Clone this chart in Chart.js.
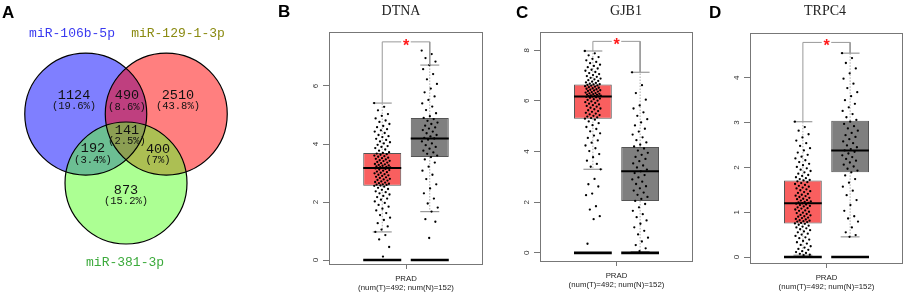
<!DOCTYPE html>
<html>
<head>
<meta charset="utf-8">
<script src="https://cdn.jsdelivr.net/npm/chart.js@4.4.1/dist/chart.umd.min.js"></script>
<style>
  body { margin: 0; background: #fff; }
  #wrap { position: relative; width: 906px; height: 295px; overflow: hidden; }
  canvas { position: absolute; top: 0; }
  .lab { position: absolute; font: bold 17px "Liberation Sans", Arial, sans-serif; line-height: 17px; }
  .ttl { position: absolute; font: 14px "Liberation Serif", serif; line-height: 14px; transform: translateX(-50%); white-space: nowrap; color: #222; }
</style>
</head>
<body>
<div id="wrap">
  <canvas id="venn" width="230" height="295" style="left:0px"></canvas>
  <canvas id="dtna" width="200" height="295" style="left:290px"></canvas>
  <canvas id="gjb1" width="200" height="295" style="left:501px"></canvas>
  <canvas id="trpc4" width="195" height="295" style="left:711px"></canvas>
  <div class="lab" style="left:2px;top:4px">A</div>
  <div class="lab" style="left:278px;top:3px">B</div>
  <div class="lab" style="left:516px;top:4px">C</div>
  <div class="lab" style="left:709px;top:4px">D</div>
  <div class="ttl" style="left:401px;top:4px">DTNA</div>
  <div class="ttl" style="left:626px;top:4px">GJB1</div>
  <div class="ttl" style="left:825px;top:4px">TRPC4</div>
</div>
<script>
// ---- Venn (panel A) ----
const vennSets = ['miR-106b-5p', 'miR-129-1-3p', 'miR-381-3p'];
const vennSetColors = ['#3a3af0', '#8a8a10', '#3caa3c'];
const vennFill = ['rgba(0,0,255,0.5)', 'rgba(255,0,0,0.5)', 'rgba(90,255,40,0.5)'];
const vennX = [-0.66, 0.66, 0];   // circle centres, radius = 1
const vennY = [1.13, 1.13, 0];
const vennR = [1, 1, 1];
const vennLabelX = [-0.885, 0.852, -0.016];
const vennLabelY = [2.443, 2.443, -1.311];

const regionCounts = ['1124', '490', '2510', '192', '141', '400', '873'];
const regionPcts = ['(19.6%)', '(8.6%)', '(43.8%)', '(3.4%)', '(2.5%)', '(7%)', '(15.2%)'];
const regionX = [-0.852, 0.016, 0.852, -0.541, 0.016, 0.525, 0];
const regionY = [1.443, 1.443, 1.443, 0.574, 0.869, 0.557, -0.115];
const regionPctY = [1.262, 1.246, 1.262, 0.377, 0.689, 0.377, -0.295];

// ---- box plots (panels B-D) ----
const groups = ['Tumor', 'Normal'];
const axisLabel = ['PRAD', '(num(T)=492; num(N)=152)'];

const dtnaQ1 = [2.56, 3.55], dtnaMed = [3.17, 4.19], dtnaQ3 = [3.69, 4.90];
const dtnaLo = [0.97, 1.67], dtnaHi = [5.41, 6.72];
const dtnaTicks = [0, 2, 4, 6];
const dtnaSig = 7.52;
const dtnaT = [5.41, 5.28, 5.16, 5.03, 4.97, 4.88, 4.81, 4.76, 4.69, 4.62, 4.58, 4.51, 4.47, 4.43, 4.38, 4.31, 4.27, 4.24, 4.18, 4.14,
  4.09, 4.06, 4.02, 3.97, 3.93, 3.9, 3.86, 3.81, 3.77, 3.72, 3.69, 3.67, 3.65, 3.63, 3.6, 3.58, 3.56, 3.53, 3.51, 3.49,
  3.47, 3.44, 3.42, 3.41, 3.38, 3.36, 3.34, 3.31, 3.3, 3.28, 3.26, 3.25, 3.23, 3.21, 3.2, 3.19, 3.18, 3.18, 3.17, 3.17,
  3.16, 3.14, 3.12, 3.1, 3.08, 3.05, 3.03, 3.01, 2.99, 2.96, 2.94, 2.92, 2.9, 2.87, 2.85, 2.83, 2.8, 2.78, 2.76, 2.74,
  2.71, 2.69, 2.67, 2.65, 2.63, 2.61, 2.6, 2.59, 2.57, 2.56, 2.53, 2.49, 2.45, 2.42, 2.37, 2.34, 2.3, 2.26, 2.21, 2.17,
  2.12, 2.08, 2.02, 1.97, 1.9, 1.84, 1.77, 1.71, 1.62, 1.55, 1.46, 1.38, 1.27, 1.16, 1.05, 0.97, 0.86, 0.71, 0.45, 0.12];
const dtnaN = [7.22, 7.1, 6.96, 6.84, 6.72, 6.58, 6.41, 6.23, 6.07, 5.91, 5.78, 5.64, 5.52, 5.4, 5.29, 5.17, 5.06, 4.96, 4.9, 4.86,
  4.8, 4.74, 4.69, 4.63, 4.57, 4.53, 4.48, 4.43, 4.37, 4.31, 4.26, 4.21, 4.19, 4.15, 4.09, 4.02, 3.96, 3.9, 3.84, 3.77,
  3.71, 3.66, 3.6, 3.55, 3.47, 3.36, 3.22, 3.08, 2.94, 2.79, 2.61, 2.47, 2.3, 2.12, 1.95, 1.81, 1.67, 1.41, 1.32, 0.76];

const gjb1Q1 = [5.30, 2.05], gjb1Med = [6.17, 3.22], gjb1Q3 = [6.65, 4.18];
const gjb1Lo = [3.30, 0.05], gjb1Hi = [7.97, 7.13];
const gjb1Ticks = [0, 2, 4, 6, 8];
const gjb1Sig = 8.35;
const gjb1T = [7.97, 7.88, 7.8, 7.73, 7.66, 7.6, 7.54, 7.49, 7.43, 7.38, 7.33, 7.28, 7.23, 7.19, 7.14, 7.1, 7.06, 7.02, 6.98, 6.95,
  6.91, 6.88, 6.85, 6.82, 6.79, 6.76, 6.73, 6.71, 6.68, 6.66, 6.65, 6.63, 6.61, 6.6, 6.58, 6.56, 6.54, 6.52, 6.5, 6.48,
  6.46, 6.44, 6.42, 6.41, 6.39, 6.37, 6.35, 6.33, 6.31, 6.3, 6.28, 6.27, 6.25, 6.24, 6.22, 6.21, 6.2, 6.19, 6.18, 6.17,
  6.16, 6.14, 6.12, 6.09, 6.07, 6.04, 6.01, 5.98, 5.95, 5.92, 5.89, 5.86, 5.83, 5.8, 5.77, 5.73, 5.7, 5.67, 5.63, 5.6,
  5.57, 5.53, 5.5, 5.47, 5.44, 5.41, 5.38, 5.35, 5.32, 5.3, 5.26, 5.19, 5.12, 5.04, 4.97, 4.89, 4.8, 4.72, 4.63, 4.54,
  4.44, 4.35, 4.24, 4.13, 4.02, 3.9, 3.78, 3.64, 3.51, 3.4, 3.3, 2.92, 2.71, 2.62, 2.34, 2.28, 1.84, 1.71, 1.45, 1.33, 0.36];
const gjb1N = [7.13, 6.62, 6.31, 6.05, 5.82, 5.7, 5.55, 5.41, 5.28, 5.15, 5.03, 4.9, 4.79, 4.67, 4.56, 4.45, 4.36, 4.27, 4.2, 4.12,
  4.04, 3.95, 3.87, 3.79, 3.71, 3.62, 3.53, 3.45, 3.37, 3.29, 3.22, 3.15, 3.07, 2.98, 2.9, 2.81, 2.72, 2.63, 2.55, 2.46,
  2.38, 2.29, 2.21, 2.13, 2.05, 1.93, 1.8, 1.66, 1.53, 1.41, 1.28, 1.15, 1.01, 0.87, 0.73, 0.6, 0.45, 0.31, 0.18, 0.07];

const trpc4Q1 = [0.75, 1.89], trpc4Med = [1.20, 2.38], trpc4Q3 = [1.71, 3.04];
const trpc4Lo = [0.04, 0.45], trpc4Hi = [3.02, 4.55];
const trpc4Ticks = [0, 1, 2, 3, 4];
const trpc4Sig = 4.79;
const trpc4T = [3.02, 2.9, 2.82, 2.74, 2.67, 2.6, 2.54, 2.48, 2.43, 2.38, 2.33, 2.28, 2.24, 2.2, 2.16, 2.12, 2.08, 2.05, 2.01, 1.98,
  1.95, 1.92, 1.89, 1.86, 1.83, 1.81, 1.78, 1.76, 1.74, 1.72, 1.71, 1.69, 1.67, 1.65, 1.63, 1.61, 1.59, 1.57, 1.55, 1.53,
  1.51, 1.49, 1.47, 1.45, 1.43, 1.41, 1.39, 1.37, 1.36, 1.34, 1.32, 1.3, 1.29, 1.27, 1.26, 1.24, 1.23, 1.22, 1.21, 1.2,
  1.19, 1.17, 1.16, 1.14, 1.13, 1.11, 1.09, 1.08, 1.06, 1.04, 1.03, 1.01, 0.99, 0.98, 0.96, 0.94, 0.93, 0.91, 0.9, 0.88,
  0.87, 0.85, 0.84, 0.82, 0.81, 0.8, 0.79, 0.78, 0.76, 0.75, 0.74, 0.72, 0.7, 0.68, 0.66, 0.64, 0.62, 0.6, 0.57, 0.55,
  0.52, 0.5, 0.47, 0.44, 0.42, 0.39, 0.36, 0.33, 0.3, 0.27, 0.24, 0.21, 0.18, 0.16, 0.13, 0.11, 0.09, 0.07, 0.05, 0.04];
const trpc4N = [4.55, 4.44, 4.33, 4.21, 4.1, 3.98, 3.87, 3.77, 3.68, 3.59, 3.5, 3.42, 3.34, 3.26, 3.19, 3.12, 3.06, 3.02, 2.97, 2.92,
  2.87, 2.82, 2.77, 2.72, 2.68, 2.63, 2.58, 2.54, 2.49, 2.45, 2.41, 2.38, 2.35, 2.31, 2.27, 2.23, 2.19, 2.15, 2.11, 2.06,
  2.02, 1.97, 1.93, 1.89, 1.82, 1.74, 1.66, 1.57, 1.48, 1.38, 1.27, 1.16, 1.03, 0.91, 0.86, 0.79, 0.66, 0.55, 0.49, 0.45];

Chart.defaults.font.family = '"Liberation Sans", Arial, sans-serif';
Chart.defaults.animation = false;

// venn text is drawn on the chart's own scales
const vennText = {
  id: 'vennText',
  afterDatasetsDraw(chart) {
    const ctx = chart.ctx, sx = chart.scales.x, sy = chart.scales.y;
    ctx.save();
    ctx.textAlign = 'center';
    ctx.textBaseline = 'middle';
    ctx.fillStyle = '#111';
    regionCounts.forEach((c, i) => {
      ctx.font = '13.5px "Liberation Mono", monospace';
      ctx.fillText(c, sx.getPixelForValue(regionX[i]), sy.getPixelForValue(regionY[i]));
      ctx.font = '10.5px "Liberation Mono", monospace';
      ctx.fillText(regionPcts[i], sx.getPixelForValue(regionX[i]), sy.getPixelForValue(regionPctY[i]));
    });
    ctx.font = '13px "Liberation Mono", monospace';
    vennSets.forEach((s, i) => {
      ctx.fillStyle = vennSetColors[i];
      ctx.fillText(s, sx.getPixelForValue(vennLabelX[i]), sy.getPixelForValue(vennLabelY[i]));
    });
    ctx.restore();
  }
};

// circle radius converted from data units to pixels through the x scale
const unitRadius = (ctx) => {
  const s = ctx.chart.scales.x;
  return s.getPixelForValue(vennR[ctx.dataIndex]) - s.getPixelForValue(0);
};
const circles = vennX.map((x, i) => ({ x: x, y: vennY[i] }));

new Chart(document.getElementById('venn'), {
  type: 'scatter',
  data: {
    datasets: [
      { label: 'outline', data: circles, pointRadius: unitRadius, pointBackgroundColor: 'rgba(0,0,0,0)',
        pointBorderColor: '#000', pointBorderWidth: 1.2, clip: false },
      { label: 'fill', data: circles, pointRadius: unitRadius, pointBackgroundColor: vennFill,
        pointBorderWidth: 0, clip: false }
    ]
  },
  options: {
    responsive: false,
    events: [],
    layout: { padding: 0, autoPadding: false },
    plugins: { legend: { display: false }, tooltip: { enabled: false } },
    scales: {
      x: { type: 'linear', display: false, min: -2.066, max: 1.705 },
      y: { type: 'linear', display: false, min: -1.836, max: 3.0 }
    }
  },
  plugins: [vennText]
});

// frame round the plot area and the red significance star
const frameAndStar = {
  id: 'frameAndStar',
  afterDatasetsDraw(chart, args, opts) {
    const { ctx, chartArea: a } = chart;
    ctx.save();
    ctx.strokeStyle = '#777';
    ctx.lineWidth = 1;
    ctx.strokeRect(Math.round(a.left) + 0.5, Math.round(a.top) + 0.5, Math.round(a.right - a.left) - 1, Math.round(a.bottom - a.top) - 1);
    const px = chart.scales.x.getPixelForValue(1.5);
    const py = chart.scales.y.getPixelForValue(opts.sig);
    ctx.fillStyle = '#ff1a1a';
    ctx.font = 'bold 16px "Liberation Sans", Arial, sans-serif';
    ctx.textAlign = 'center';
    ctx.textBaseline = 'alphabetic';
    ctx.fillText('*', px, py + 8.8);
    ctx.restore();
  }
};

function halfWidth(units) {
  return (ctx) => {
    const s = ctx.chart.scales.x;
    return s.getPixelForValue(units) - s.getPixelForValue(0);
  };
}

// deterministic side-by-side spread of the points inside each box
function spread(vals, centre) {
  return vals.map((v, i) => ({ x: centre + (((i * 0.618034) % 1) - 0.5) * 0.34, y: v }));
}

function boxChart(id, g) {
  return new Chart(document.getElementById(id), {
    type: 'bar',
    data: {
      datasets: [
        { type: 'line', label: 'bracket', borderColor: '#999', borderWidth: 1, pointRadius: 0, spanGaps: false,
          data: [{ x: 1, y: g.hi[0] }, { x: 1, y: g.sig }, { x: 1.4, y: g.sig }, { x: 1.5, y: null },
                 { x: 1.6, y: g.sig }, { x: 2, y: g.sig }, { x: 2, y: g.hi[1] }] },
        { type: 'scatter', label: 'zero', data: [{ x: 1, y: 0 }, { x: 2, y: 0 }], pointStyle: 'line',
          pointRadius: halfWidth(0.4), pointBorderColor: '#000', pointBorderWidth: 2.6 },
        { type: 'scatter', label: 'median', data: g.med.map((m, i) => ({ x: i + 1, y: m })), pointStyle: 'line',
          pointRadius: halfWidth(0.4), pointBorderColor: '#000', pointBorderWidth: 2 },
        { type: 'scatter', label: 'points', data: spread(g.t, 1).concat(spread(g.n, 2)),
          pointRadius: 1.15, pointBackgroundColor: '#000', pointBorderWidth: 0 },
        { type: 'scatter', label: 'caps', pointStyle: 'line', pointRadius: halfWidth(0.2),
          pointBorderColor: '#999', pointBorderWidth: 1.2,
          data: g.hi.map((h, i) => ({ x: i + 1, y: h })).concat(g.lo.map((l, i) => ({ x: i + 1, y: l }))) },
        { type: 'line', label: 'whiskers', borderColor: '#aaa', borderWidth: 1, borderDash: [1.5, 1.5], pointRadius: 0,
          data: [{ x: 1, y: g.q3[0] }, { x: 1, y: g.hi[0] }, { x: 1, y: null }, { x: 1, y: g.q1[0] }, { x: 1, y: g.lo[0] },
                 { x: 2, y: null }, { x: 2, y: g.q3[1] }, { x: 2, y: g.hi[1] }, { x: 2, y: null },
                 { x: 2, y: g.q1[1] }, { x: 2, y: g.lo[1] }] },
        { type: 'bar', label: 'box', data: g.q1.map((q, i) => ({ x: i + 1, y: [q, g.q3[i]] })),
          backgroundColor: ['#f95f5f', '#7f7f7f'], borderColor: '#555', borderWidth: 1, borderSkipped: false,
          barPercentage: 1, categoryPercentage: 0.8 }
      ]
    },
    options: {
      responsive: false,
      events: [],
      layout: { padding: { top: g.top, right: g.right, left: 0, bottom: 0 }, autoPadding: false },
      plugins: { legend: { display: false }, tooltip: { enabled: false }, frameAndStar: { sig: g.sig } },
      scales: {
        x: {
          type: 'linear', offset: false, min: -0.12, max: 3.12,
          afterBuildTicks: (s) => { s.ticks = [{ value: 1.5 }]; },
          afterFit: (s) => { s.height = g.xh; },
          grid: { drawOnChartArea: false, drawTicks: true, tickLength: 4, color: '#777', offset: false },
          border: { display: false },
          ticks: { autoSkip: false, maxRotation: 0, padding: 5, color: '#222', font: { size: 7.8, lineHeight: 1.2 },
                   callback: () => axisLabel }
        },
        y: {
          type: 'linear', min: g.ymin, max: g.ymax,
          afterBuildTicks: (s) => { s.ticks = g.ticks.map(v => ({ value: v })); },
          afterFit: (s) => { s.width = 39; },
          grid: { drawOnChartArea: false, drawTicks: true, tickLength: 6, color: '#777' },
          border: { display: false },
          ticks: { minRotation: 90, maxRotation: 90, crossAlign: 'center', padding: 5, color: '#333', font: { size: 8 } }
        }
      }
    },
    plugins: [frameAndStar]
  });
}

boxChart('dtna', { q1: dtnaQ1, med: dtnaMed, q3: dtnaQ3, lo: dtnaLo, hi: dtnaHi, t: dtnaT, n: dtnaN, sig: dtnaSig,
  ticks: dtnaTicks, ymin: -0.17, ymax: 7.86, top: 32, right: 7, xh: 30 });
boxChart('gjb1', { q1: gjb1Q1, med: gjb1Med, q3: gjb1Q3, lo: gjb1Lo, hi: gjb1Hi, t: gjb1T, n: gjb1N, sig: gjb1Sig,
  ticks: gjb1Ticks, ymin: -0.36, ymax: 8.72, top: 32, right: 8, xh: 33 });
boxChart('trpc4', { q1: trpc4Q1, med: trpc4Med, q3: trpc4Q3, lo: trpc4Lo, hi: trpc4Hi, t: trpc4T, n: trpc4N, sig: trpc4Sig,
  ticks: trpc4Ticks, ymin: -0.156, ymax: 5.0, top: 33, right: 3, xh: 31 });
</script>
</body>
</html>
